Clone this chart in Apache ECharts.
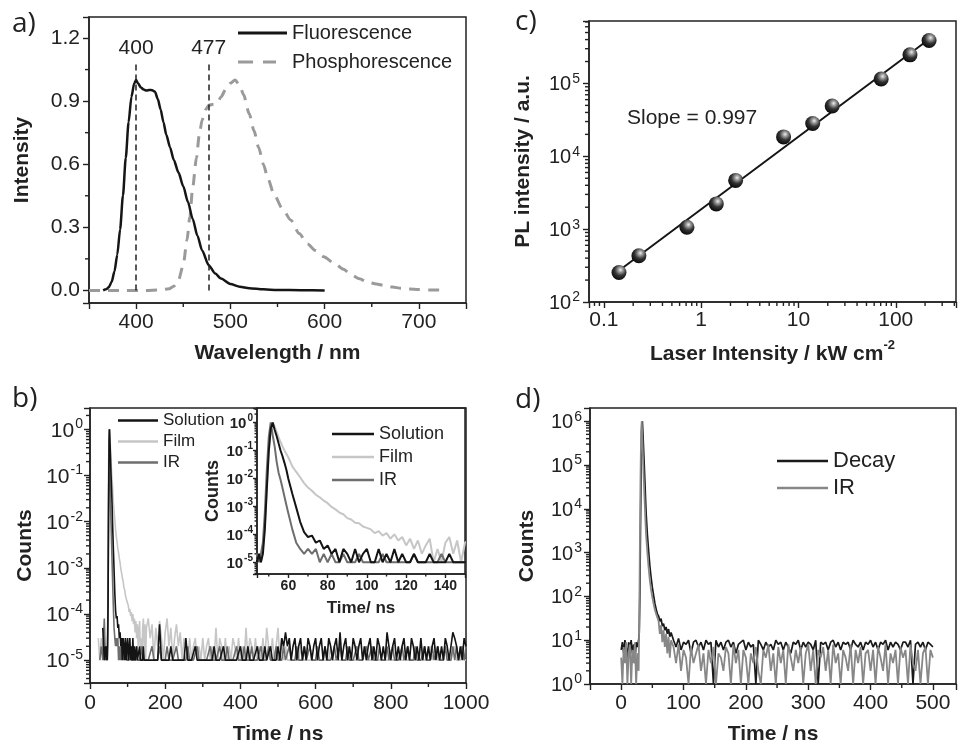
<!DOCTYPE html>
<html><head><meta charset="utf-8">
<script src="https://cdn.jsdelivr.net/npm/echarts@6.0.0/dist/echarts.min.js"></script>
<style>html,body{margin:0;padding:0;background:#fff}#c{width:959px;height:746px}</style>
</head><body><div id="c"></div>
<script>
// ---------------- DATA ----------------
// a) steady-state spectra
const fluoWl = [365,368,371,374,377,380,383,386,389,392,395,398,400,402,405,408,411,414,417,420,423,426,429,432,436,440,445,450,455,460,465,470,477,484,490,500,510,520,535,550,575,600];
const fluoI  = [0,0.005,0.015,0.04,0.09,0.17,0.29,0.45,0.63,0.8,0.92,0.985,1.0,0.985,0.965,0.955,0.95,0.953,0.952,0.945,0.91,0.86,0.8,0.74,0.68,0.62,0.56,0.495,0.42,0.34,0.26,0.19,0.12,0.08,0.056,0.03,0.017,0.01,0.005,0.002,0.001,0];
const phosWl = [350,370,390,410,425,435,440,445,450,454,457,460,464,467,470,474,477,482,486,490,495,500,505,510,514,520,525,530,535,540,546,555,564,573,582,590,599,610,620,628,637,645,655,663,672,681,690,700,712,725];
const phosI  = [0,0,0,0,0.002,0.008,0.02,0.05,0.12,0.24,0.35,0.49,0.63,0.74,0.81,0.86,0.88,0.885,0.89,0.92,0.955,0.985,1.0,0.975,0.93,0.84,0.76,0.68,0.6,0.53,0.46,0.39,0.335,0.27,0.22,0.19,0.16,0.13,0.1,0.075,0.055,0.04,0.03,0.024,0.016,0.01,0.007,0.004,0.002,0.001];
const peakMarks = [400, 477];
const peakMarkTop = 1.09;

// c) power dependence
const laserI = [0.143,0.229,0.714,1.43,2.26,7.03,14.0,22.2,70.8,140,220];
const plI    = [254,431,1060,2220,4670,18450,28200,49000,115000,247000,389000];
const fitX = [0.14, 225];
const fitY = [264, 415000];
const slopeText = 'Slope = 0.997';

// b) decays (normalised counts)
const bTime = [22,26,30,34,38,41,
44,45,46,47,48,49,50,51,52,53,54,55,56,57,58,59,60,
62,64,66,68,70,72,74,76,78,80,82,84,86,88,90,92,94,96,98,100,102,104,106,108,110,112,114,116,118,120,122,124,126,128,130,132,134,136,138,140,142,144,146,148,150,
155,160,165,170,175,180,185,190,195,200,
205,210,215,220,225,230,235,240,245,250,
255,260,265,270,275,280,285,290,295,300,
305,310,315,320,325,330,335,340,345,350,
355,360,365,370,375,380,385,390,395,400,
405,410,415,420,425,430,435,440,445,450,
455,460,465,470,475,480,485,490,495,500,
505,510,515,520,525,530,535,540,545,550,
555,560,565,570,575,580,585,590,595,600,
605,610,615,620,625,630,635,640,645,650,
655,660,665,670,675,680,685,690,695,700,
705,710,715,720,725,730,735,740,745,750,
755,760,765,770,775,780,785,790,795,800,
805,810,815,820,825,830,835,840,845,850,
855,860,865,870,875,880,885,890,895,900,
905,910,915,920,925,930,935,940,945,950,
955,960,965,970,975,980,985,990,995,1000];
const bSolution = [null,null,null,5e-5,1e-5,2e-5,
1e-5,2e-5,1e-5,2e-5,1.5e-4,4e-3,0.09,0.6,1.0,0.55,0.33,0.18,0.1,0.062,0.036,0.02,0.0095,
0.0028,0.0009,0.00028,0.00012,0.00008,0.00009,0.00005,0.00006,0.00003,0.00004,
0.00002,0.00003,0.00001,0.00003,0.00002,0.00001,0.00003,0.00001,0.00002,0.00003,
0.00001,0.00001,0.00003,0.00001,0.00002,0.00001,0.00003,0.00001,0.00002,0.00001,
0.00001,0.00002,0.00001,0.00001,0.00001,0.00002,0.00001,0.00001,0.00001,0.00001,
0.00002,0.00001,0.00001,0.00001,0.00001,
1e-5,1e-5,1e-5,1e-5,1e-5,1e-5,6e-5,1e-5,1e-5,1e-5,
1e-5,1e-5,2e-5,1e-5,1e-5,1e-5,1e-5,1e-5,1e-5,1e-5,
3e-5,1e-5,1e-5,1e-5,1e-5,2e-5,1e-5,1e-5,1e-5,1e-5,
1e-5,1e-5,1e-5,1e-5,1e-5,2e-5,1e-5,1e-5,1e-5,1e-5,
2e-5,1e-5,1e-5,1e-5,1e-5,1e-5,1e-5,1e-5,1e-5,2e-5,
1e-5,1e-5,1e-5,2e-5,1e-5,1e-5,1e-5,1e-5,2e-5,1e-5,
1e-5,1e-5,2e-5,1e-5,1e-5,2e-5,1e-5,1e-5,1e-5,2e-5,
1e-5,3e-5,2e-5,4e-5,2e-5,3e-5,1e-5,2e-5,3e-5,1e-5,
2e-5,3e-5,1e-5,2e-5,1e-5,3e-5,2e-5,1e-5,2e-5,3e-5,
1e-5,2e-5,3e-5,1e-5,2e-5,1e-5,3e-5,2e-5,1e-5,2e-5,
3e-5,1e-5,4e-5,1e-5,2e-5,3e-5,1e-5,2e-5,1e-5,3e-5,
2e-5,1e-5,2e-5,3e-5,1e-5,2e-5,1e-5,2e-5,3e-5,1e-5,
2e-5,1e-5,3e-5,2e-5,1e-5,2e-5,1e-5,4e-5,2e-5,1e-5,
2e-5,3e-5,1e-5,2e-5,1e-5,2e-5,3e-5,1e-5,2e-5,1e-5,
3e-5,2e-5,1e-5,2e-5,1e-5,3e-5,1e-5,2e-5,1e-5,2e-5,
1e-5,2e-5,3e-5,1e-5,2e-5,1e-5,2e-5,1e-5,3e-5,2e-5,
1e-5,2e-5,4e-5,3e-5,2e-5,1e-5,2e-5,1e-5,3e-5,2e-5];
const bFilm = [3e-5,1e-5,3e-5,2e-5,1e-5,2e-5,
1e-5,2e-5,1e-5,3e-5,2e-4,5e-3,0.1,0.65,1.0,0.72,0.46,0.3,0.2,0.14,0.1,0.075,0.056,
0.027,0.017,0.011,0.0068,0.0047,0.0036,0.0026,0.0021,0.0016,0.0013,
0.00095,0.00078,0.0006,0.00052,0.00038,0.00034,0.00026,0.00025,0.00019,0.00017,
0.00015,0.00011,0.00013,0.00009,0.00011,0.00007,0.0001,0.00006,0.00008,0.00004,
0.00007,0.00003,0.00006,0.00002,0.00004,0.00007,0.00001,0.00003,0.00001,0.00005,
0.00008,0.00002,0.00006,0.00001,0.00005,
8e-5,3e-5,6e-5,1e-5,5e-5,2e-5,7e-5,3e-5,1e-5,4e-5,
8e-5,2e-5,5e-5,1e-5,3e-5,6e-5,2e-5,4e-5,1e-5,3e-5,
2e-5,1e-5,3e-5,1e-5,2e-5,3e-5,1e-5,2e-5,1e-5,3e-5,
1e-5,2e-5,3e-5,1e-5,2e-5,1e-5,5e-5,1e-5,3e-5,2e-5,
1e-5,3e-5,1e-5,2e-5,1e-5,3e-5,2e-5,1e-5,3e-5,1e-5,
2e-5,1e-5,5e-5,1e-5,3e-5,2e-5,1e-5,3e-5,1e-5,2e-5,
1e-5,3e-5,1e-5,5e-5,2e-5,1e-5,3e-5,1e-5,2e-5,5e-5,
1e-5,3e-5,1e-5,2e-5,1e-5,1e-5,1e-5,1e-5,1e-5,1e-5,
1e-5,2e-5,1e-5,1e-5,1e-5,1e-5,1e-5,1e-5,1e-5,1e-5,
1e-5,1e-5,1e-5,1e-5,1e-5,1e-5,1e-5,2e-5,1e-5,1e-5,
1e-5,1e-5,1e-5,1e-5,1e-5,1e-5,1e-5,1e-5,1e-5,1e-5,
1e-5,1e-5,1e-5,1e-5,1e-5,2e-5,1e-5,1e-5,1e-5,1e-5,
1e-5,1e-5,1e-5,1e-5,1e-5,1e-5,1e-5,1e-5,1e-5,1e-5,
1e-5,1e-5,1e-5,1e-5,1e-5,1e-5,1e-5,1e-5,1e-5,1e-5,
1e-5,1e-5,1e-5,1e-5,1e-5,1e-5,1e-5,1e-5,1e-5,1e-5,
2e-5,1e-5,1e-5,2e-5,1e-5,1e-5,1e-5,1e-5,2e-5,1e-5,
1e-5,1e-5,1e-5,2e-5,1e-5,1e-5,1e-5,2e-5,1e-5,1e-5];
const bIR = [null,1e-5,2e-5,1e-5,8e-5,1e-5,
2e-5,1e-5,2e-5,5e-5,6e-4,0.02,0.3,1.0,0.35,0.14,0.04,0.016,0.009,0.0045,0.0022,0.0011,0.00055,
0.00015,0.00005,0.00003,0.00002,0.00003,0.00002,0.00003,0.00001,0.00002,0.00001,
0.00002,0.00001,0.00001,0.00002,0.00001,1e-5,1e-5,2e-5,1e-5,1e-5,
1e-5,1e-5,1e-5,2e-5,1e-5,1e-5,1e-5,1e-5,1e-5,1e-5,
1e-5,2e-5,1e-5,1e-5,1e-5,1e-5,1e-5,1e-5,2e-5,1e-5,
1e-5,1e-5,1e-5,1e-5,1e-5,
1e-5,1e-5,2e-5,1e-5,1e-5,1e-5,2e-5,1e-5,1e-5,1e-5,
2e-5,1e-5,1e-5,1e-5,1e-5,2e-5,1e-5,1e-5,1e-5,1e-5,
1e-5,2e-5,1e-5,1e-5,1e-5,1e-5,2e-5,1e-5,1e-5,1e-5,
1e-5,1e-5,1e-5,2e-5,1e-5,1e-5,1e-5,1e-5,2e-5,1e-5,
1e-5,1e-5,2e-5,1e-5,1e-5,1e-5,1e-5,2e-5,1e-5,1e-5,
1e-5,2e-5,1e-5,1e-5,1e-5,2e-5,1e-5,1e-5,1e-5,1e-5,
2e-5,1e-5,1e-5,1e-5,2e-5,1e-5,1e-5,1e-5,2e-5,1e-5,
1e-5,1e-5,2e-5,1e-5,1e-5,2e-5,1e-5,1e-5,1e-5,2e-5,
1e-5,1e-5,1e-5,2e-5,1e-5,1e-5,2e-5,1e-5,1e-5,1e-5,
2e-5,1e-5,1e-5,1e-5,2e-5,1e-5,1e-5,1e-5,1e-5,2e-5,
1e-5,1e-5,2e-5,1e-5,1e-5,1e-5,2e-5,1e-5,1e-5,1e-5,
1e-5,2e-5,1e-5,1e-5,1e-5,1e-5,2e-5,1e-5,1e-5,2e-5,
1e-5,1e-5,1e-5,2e-5,1e-5,1e-5,1e-5,2e-5,1e-5,1e-5,
2e-5,1e-5,1e-5,1e-5,1e-5,2e-5,1e-5,1e-5,2e-5,1e-5,
1e-5,1e-5,2e-5,1e-5,1e-5,1e-5,1e-5,2e-5,1e-5,1e-5,
1e-5,2e-5,1e-5,1e-5,2e-5,1e-5,1e-5,1e-5,2e-5,1e-5,
1e-5,1e-5,2e-5,1e-5,2e-5,1e-5,1e-5,2e-5,1e-5,2e-5];

// d) decay vs instrument response (raw counts)
const dTime = [0,2,4,6,8,10,12,14,16,18,20,22,24,26,28,
29,30,31,32,33,34,35,36,37,38,39,40,
42,44,46,48,50,52,54,56,58,60,62,64,66,68,70,72,74,76,78,80,
84,88,92,96,100,104,108,112,116,120,
124,128,132,136,140,144,148,152,156,160,
164,168,172,176,180,184,188,192,196,200,
204,208,212,216,220,224,228,232,236,240,
244,248,252,256,260,264,268,272,276,280,
284,288,292,296,300,304,308,312,316,320,
324,328,332,336,340,344,348,352,356,360,
364,368,372,376,380,384,388,392,396,400,
404,408,412,416,420,424,428,432,436,440,
444,448,452,456,460,464,468,472,476,480,
484,488,492,496,500];
const dDecay = [6,9,5,10,7,4,9,6,10,5,8,3,9,7,10,
15,120,4000,80000,600000,1000000,500000,220000,100000,45000,18000,8000,
2600,1100,500,270,160,105,70,52,40,36,27,31,21,24,17,20,14,18,12,15,
10,7,11,6,9,8,10,5,9,10,
7,9,6,10,8,9,1,10,7,9,
6,9,10,7,9,5,8,9,10,6,
9,7,8,1,10,8,6,9,7,8,
6,10,8,9,6,9,7,5,9,8,
10,6,9,7,9,8,6,10,1,9,
8,9,6,9,10,7,9,6,9,8,
9,6,10,8,7,9,6,9,8,10,
7,9,6,9,8,10,6,9,7,9,
8,6,9,9,7,10,1,8,9,7,
9,6,9,8,7];
const dIR = [4,1,7,3,9,1,5,8,1,6,3,9,1,5,2,
30,1500,50000,600000,1000000,400000,150000,60000,25000,11000,5000,2500,
1000,450,230,140,95,68,50,40,33,27,14,22,9,17,7,14,5,12,4,10,
7,3,8,2,6,4,1,7,3,5,
8,2,5,1,6,3,7,1,5,4,
2,7,5,1,8,3,6,1,6,4,
1,5,3,7,2,1,6,4,8,2,
5,1,7,3,6,1,8,4,2,6,
3,7,1,5,8,2,6,1,6,4,
7,2,6,1,8,3,5,1,6,4,
2,8,1,6,3,7,1,5,6,2,
6,1,7,4,2,8,1,5,3,6,
1,7,4,6,1,8,3,2,6,1,
5,7,1,6,4];

// minor tick positions on linear axes
const aMinorX = [450, 550, 650];
const aMinorY = [0.15, 0.45, 0.75, 1.05];
const bMinorX = [100, 300, 500, 700, 900];
const iMinorX = [50, 70, 90, 110, 130];
const dMinorX = [50, 150, 250, 350, 450];

// ---------------- STYLE ----------------
const FONT = "'Liberation Sans', Arial, Helvetica, sans-serif";
const INK = '#222';
const COL = {sol: '#141414', film: '#c6c6c6', ir: '#6e6e6e', fluo: '#151515', phos: '#9a9a9a', decay: '#1a1a1a', irD: '#878787'};
const EXT = {
  a: {x: [350, 750], y: [-0.06, 1.3]},
  c: {x: [0.0703, 416], y: [100, 720000]},
  b: {x: [0, 1000], y: [3.2e-6, 2.9]},
  i: {x: [44, 150], y: [3.8e-6, 3.3]},
  d: {x: [-50, 537], y: [1, 2e6]}
};

function pairs(xs, ys) { return xs.map((x, i) => [x, ys[i]]); }
function isPow10(v) { const l = Math.log10(v); return Math.abs(l - Math.round(l)) < 1e-6; }
function powFmt(v) { return isPow10(v) ? '{b|10}{s|' + Math.round(Math.log10(v)) + '}' : ''; }
function richPow(big, small, bold) {
  const w = bold ? 'bold' : 'normal';
  return {
    b: {fontSize: big, fontFamily: FONT, fontWeight: w, color: INK, padding: [3, 0, 0, 0], verticalAlign: 'bottom'},
    s: {fontSize: small, fontFamily: FONT, fontWeight: w, color: INK, verticalAlign: 'top', padding: [0, 0, 0, 1]}
  };
}
function logMinors(lo, hi) {
  const out = [];
  for (let e = Math.floor(Math.log10(lo)); e <= Math.ceil(Math.log10(hi)); e++) {
    for (let k = 2; k <= 9; k++) { const v = k * Math.pow(10, e); if (v > lo && v < hi) out.push(v); }
  }
  return out;
}
function axis(o) {
  return {
    type: o.type || 'value', gridIndex: o.g, min: o.ext[0], max: o.ext[1],
    interval: o.interval, minInterval: o.step, maxInterval: o.step,
    name: o.name, nameLocation: 'middle', nameGap: o.nameGap,
    nameTextStyle: Object.assign({color: INK, fontFamily: FONT, fontSize: o.nameSize || 21, fontWeight: 'bold'}, o.nameStyle || {}),
    axisLine: {show: true, onZero: false, lineStyle: {color: INK, width: 1.5}},
    axisTick: {show: true, length: o.tick || 6, lineStyle: {color: INK, width: 1.4}},
    minorTick: {show: false}, splitLine: {show: false}, minorSplitLine: {show: false},
    axisLabel: {show: true, margin: o.margin, color: INK, fontFamily: FONT, fontSize: o.labelSize || 21,
      fontWeight: o.labelWeight || 'normal', formatter: o.fmt, rich: o.rich}
  };
}
function tickSeries(ax, vals, isX, edge, len) {
  return {
    type: 'custom', xAxisIndex: ax, yAxisIndex: ax, silent: true, z: 5, clip: false,
    data: vals.map(v => isX ? [v, edge] : [edge, v]),
    renderItem: function (params, api) {
      const p = api.coord([api.value(0), api.value(1)]);
      return {type: 'line',
        shape: isX ? {x1: p[0], y1: p[1], x2: p[0], y2: p[1] + len} : {x1: p[0] - len, y1: p[1], x2: p[0], y2: p[1]},
        style: {stroke: INK, lineWidth: 1.4}};
    }
  };
}
function trace(name, ax, xs, ys, color, width, z) {
  return {name: name, type: 'line', xAxisIndex: ax, yAxisIndex: ax, data: pairs(xs, ys), symbol: 'none',
    connectNulls: false, lineStyle: {color: color, width: width}, itemStyle: {color: color}, z: z, silent: true};
}

const sphere = new echarts.graphic.RadialGradient(0.6, 0.32, 0.7, [
  {offset: 0, color: '#eeeeee'}, {offset: 0.22, color: '#9c9c9c'}, {offset: 0.55, color: '#333'}, {offset: 1, color: '#080808'}]);

const grid = [
  {left: 89, top: 17, width: 377, height: 286},
  {left: 589, top: 21, width: 370, height: 281},
  {left: 90, top: 408, width: 376, height: 275},
  {left: 257, top: 408, width: 208, height: 166},
  {left: 590, top: 408, width: 369, height: 280}
].map(g => Object.assign({show: true, borderColor: INK, borderWidth: 1.5, backgroundColor: 'transparent'}, g));

const xAxis = [
  axis({g: 0, ext: EXT.a.x, step: 100, name: 'Wavelength / nm', nameGap: 40, margin: 9,
    fmt: v => (v % 100 === 0 ? String(v) : '')}),
  axis({g: 1, type: 'log', ext: EXT.c.x, name: '{n|Laser Intensity / kW cm}{s|-2}', nameGap: 37, margin: 8,
    nameStyle: {rich: {n: {fontSize: 21, fontWeight: 'bold', fontFamily: FONT, color: INK, padding: [5, 0, 0, 0], verticalAlign: 'bottom'},
                       s: {fontSize: 13, fontWeight: 'bold', fontFamily: FONT, color: INK, verticalAlign: 'top'}}},
    fmt: v => (isPow10(v) ? String(+v.toPrecision(3)) : '')}),
  axis({g: 2, ext: EXT.b.x, interval: 200, name: 'Time / ns', nameGap: 41, margin: 10, fmt: v => String(v)}),
  axis({g: 3, ext: EXT.i.x, step: 20, name: 'Time/ ns', nameGap: 26, nameSize: 17, margin: 5, tick: 4,
    labelSize: 14, labelWeight: 'bold', fmt: v => (v % 20 === 0 ? String(v) : '')}),
  axis({g: 4, ext: EXT.d.x, step: 100, name: 'Time / ns', nameGap: 40, margin: 9,
    fmt: v => (v % 100 === 0 ? String(v) : '')})
];
const yAxis = [
  axis({g: 0, ext: EXT.a.y, step: 0.3, name: 'Intensity', nameGap: 56, margin: 9,
    fmt: v => (Math.abs(v / 0.3 - Math.round(v / 0.3)) < 1e-6 ? Math.abs(v).toFixed(1) : '')}),
  axis({g: 1, type: 'log', ext: EXT.c.y, name: 'PL intensity / a.u.', nameGap: 55, margin: 9, fmt: powFmt, rich: richPow(20, 14, false)}),
  axis({g: 2, type: 'log', ext: EXT.b.y, name: 'Counts', nameGap: 54, margin: 7, fmt: powFmt, rich: richPow(21, 14, false)}),
  axis({g: 3, type: 'log', ext: EXT.i.y, name: 'Counts', nameGap: 34, nameSize: 18, margin: 4, tick: 4, fmt: powFmt, rich: richPow(15, 10, true)}),
  axis({g: 4, type: 'log', ext: EXT.d.y, name: 'Counts', nameGap: 52, margin: 8, fmt: powFmt, rich: richPow(20, 14, false)})
];

const series = [
  // a
  {name: 'Phosphorescence', type: 'line', xAxisIndex: 0, yAxisIndex: 0, data: pairs(phosWl, phosI), symbol: 'none',
    smooth: 0.25, smoothMonotone: 'x', lineStyle: {color: COL.phos, width: 3, type: [11, 8]}, itemStyle: {color: COL.phos}, z: 2, silent: true},
  {name: 'Fluorescence', type: 'line', xAxisIndex: 0, yAxisIndex: 0, data: pairs(fluoWl, fluoI), symbol: 'none',
    smooth: 0.25, smoothMonotone: 'x', lineStyle: {color: COL.fluo, width: 2.5}, itemStyle: {color: COL.fluo}, z: 3, silent: true,
    markLine: {silent: true, symbol: ['none', 'none'], animation: false,
      lineStyle: {color: INK, type: [6, 4], width: 1.5},
      label: {show: true, position: 'end', formatter: '{b}', color: INK, fontFamily: FONT, fontSize: 21, distance: 2},
      data: peakMarks.map(w => [{coord: [w, 0], name: String(w)}, {coord: [w, peakMarkTop]}])}},
  // c
  {name: 'Fit', type: 'line', xAxisIndex: 1, yAxisIndex: 1, data: pairs(fitX, fitY), symbol: 'none',
    lineStyle: {color: '#151515', width: 2}, z: 3, silent: true},
  {name: 'PL', type: 'scatter', xAxisIndex: 1, yAxisIndex: 1, data: pairs(laserI, plI), symbolSize: 15,
    itemStyle: {color: sphere, opacity: 1}, z: 4, silent: true},
  // b main
  trace('Film', 2, bTime, bFilm, COL.film, 1.6, 2),
  trace('IR', 2, bTime, bIR, COL.ir, 1.6, 3),
  trace('Solution', 2, bTime, bSolution, COL.sol, 1.6, 4),
  // b inset
  trace('Film', 3, bTime, bFilm, COL.film, 2, 6),
  trace('IR', 3, bTime, bIR, COL.ir, 2, 7),
  trace('Solution', 3, bTime, bSolution, COL.sol, 2, 8),
  // d
  trace('Decay', 4, dTime, dDecay, COL.decay, 1.7, 2),
  trace('IR', 4, dTime, dIR, COL.irD, 1.8, 3),
  // minor ticks
  tickSeries(0, aMinorX, true, EXT.a.y[0], 4),
  tickSeries(0, aMinorY, false, EXT.a.x[0], 4),
  tickSeries(1, logMinors(EXT.c.x[0], EXT.c.x[1]), true, EXT.c.y[0], 4),
  tickSeries(1, logMinors(EXT.c.y[0], EXT.c.y[1]), false, EXT.c.x[0], 4),
  tickSeries(2, bMinorX, true, EXT.b.y[0], 4),
  tickSeries(2, logMinors(EXT.b.y[0], EXT.b.y[1]), false, EXT.b.x[0], 4),
  tickSeries(3, iMinorX, true, EXT.i.y[0], 2.5),
  tickSeries(3, logMinors(EXT.i.y[0], EXT.i.y[1]), false, EXT.i.x[0], 2.5),
  tickSeries(4, dMinorX, true, EXT.d.y[0], 4),
  tickSeries(4, logMinors(EXT.d.y[0], EXT.d.y[1]), false, EXT.d.x[0], 4)
];

function legendBox(o) {
  return {orient: 'vertical', align: 'left', left: o.left, top: o.top, padding: 0, itemGap: o.gap,
    itemWidth: o.w, itemHeight: o.h || 2.5, selectedMode: false, inactiveColor: '#ccc',
    textStyle: {color: INK, fontFamily: FONT, fontSize: o.fs, lineHeight: o.lh},
    data: o.items};
}
const legend = [
  legendBox({left: 238, top: 22, gap: 7, w: 49, h: 3, fs: 20, lh: 22, items: [
    {name: 'Fluorescence', icon: 'rect', itemStyle: {color: COL.fluo}},
    {name: 'Phosphorescence', icon: 'path://M0,0H15V3H0ZM25,0H38V3H25ZM49,0V3', itemStyle: {color: COL.phos}}]}),
  legendBox({left: 118, top: 411.5, gap: 3, w: 40, fs: 17, lh: 18, items: [
    {name: 'Solution', icon: 'rect', itemStyle: {color: COL.sol}},
    {name: 'Film', icon: 'rect', itemStyle: {color: COL.film}},
    {name: 'IR', icon: 'rect', itemStyle: {color: COL.ir}}]}),
  legendBox({left: 332, top: 424.5, gap: 4, w: 42, fs: 18, lh: 19, items: [
    {name: 'Solution', icon: 'rect', itemStyle: {color: COL.sol}},
    {name: 'Film', icon: 'rect', itemStyle: {color: COL.film}},
    {name: 'IR', icon: 'rect', itemStyle: {color: COL.ir}}]}),
  legendBox({left: 777, top: 450, gap: 5, w: 51, fs: 22, lh: 22, items: [
    {name: 'Decay', icon: 'rect', itemStyle: {color: COL.decay}},
    {name: 'IR', icon: 'rect', itemStyle: {color: COL.irD}}]})
];

const panelFont = "'Open Sans', 'DejaVu Sans', sans-serif";
const graphic = [
  {type: 'text', x: 12, y: 24, style: {text: 'a)', fontSize: 28, fontFamily: panelFont, fill: INK, verticalAlign: 'middle'}},
  {type: 'text', x: 515, y: 22, style: {text: 'c)', fontSize: 28, fontFamily: panelFont, fill: INK, verticalAlign: 'middle'}},
  {type: 'text', x: 12, y: 399, style: {text: 'b)', fontSize: 28, fontFamily: panelFont, fill: INK, verticalAlign: 'middle'}},
  {type: 'text', x: 515, y: 400, style: {text: 'd)', fontSize: 28, fontFamily: panelFont, fill: INK, verticalAlign: 'middle'}},
  {type: 'text', x: 627, y: 118, style: {text: slopeText, fontSize: 21, fontFamily: FONT, fill: INK, verticalAlign: 'middle'}}
];

const chart = echarts.init(document.getElementById('c'), null, {renderer: 'canvas', width: 959, height: 746});
chart.setOption({
  animation: false, backgroundColor: '#fff',
  textStyle: {fontFamily: FONT},
  grid: grid, xAxis: xAxis, yAxis: yAxis, legend: legend, series: series, graphic: graphic
});
</script></body></html>
